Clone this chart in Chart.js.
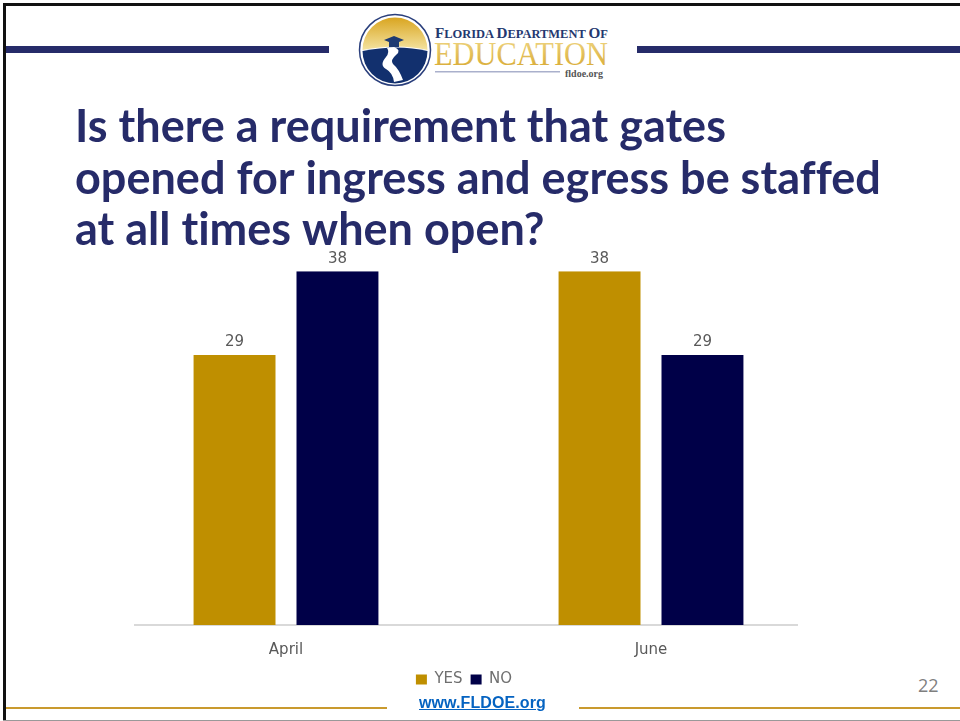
<!DOCTYPE html>
<html><head><meta charset="utf-8">
<style>
html,body{margin:0;padding:0;background:#fff;width:960px;height:721px;overflow:hidden}
.abs{position:absolute}
#wrap{position:absolute;left:75px;top:101px;width:810px;height:596px}
#axisline{position:absolute;left:134px;top:624px;width:664px;height:2px;background:#d9d9d9}
a{position:absolute;left:419px;top:694px;font:bold 16px "Liberation Sans",Arial,sans-serif;letter-spacing:.1px;color:#0563c1;text-decoration:underline}
#pg{position:absolute;left:918px;top:673px;font:18px "Open Sans",sans-serif;color:#7f7f7f}
</style></head><body>
<div class="abs" style="left:3px;top:3px;width:957px;height:3px;background:#111"></div>
<div class="abs" style="left:3px;top:3px;width:3px;height:718px;background:#111"></div>
<div class="abs" style="left:6px;top:46px;width:323px;height:7px;background:#262b69"></div>
<div class="abs" style="left:637px;top:46px;width:323px;height:7px;background:#262b69"></div>
<div class="abs" style="left:6px;top:707px;width:381px;height:2px;background:#c99a2e"></div>
<div class="abs" style="left:579px;top:707px;width:381px;height:2px;background:#c99a2e"></div>
<div class="abs" style="left:3px;top:720px;width:957px;height:1px;background:#999"></div>
<svg class="abs" style="left:355px;top:10px" width="260" height="80" viewBox="0 0 260 80">
<defs><linearGradient id="g" x1="0" y1="0" x2="0" y2="1"><stop offset="0" stop-color="#d9a520"/><stop offset="1" stop-color="#f4e3a0"/></linearGradient>
<linearGradient id="t" x1="0" y1="0" x2="0" y2="1"><stop offset="0" stop-color="#f0d888"/><stop offset="1" stop-color="#d6a62c"/></linearGradient></defs>
<circle cx="40" cy="40" r="35.5" fill="#fff" stroke="#2a3f7c" stroke-width="1.5"/>
<path d="M7.5 40a32.5 32.5 0 0 1 65 0q-30-7-65 0z" fill="url(#g)"/>
<path d="M7.5 41q35-7 65 0a32.5 32.5 0 0 1-65 0z" fill="#12306e"/>
<path d="M39 37q8 3 2 8t-3 9q6 5 10 16l-9 2q-1-9-8-13t0-12q4-5 1-9z" fill="#fff"/>
<path d="M29 30l10-4 10 4-10 4z" fill="#1d3a72"/><rect x="34" y="32" width="10" height="5" fill="#1d3a72"/>
<text x="80" y="28" font-family="Liberation Serif" font-weight="bold" fill="#24386f" textLength="173" lengthAdjust="spacingAndGlyphs" font-size="11.5"><tspan font-size="14">F</tspan>LORIDA <tspan font-size="14">D</tspan>EPARTMENT <tspan font-size="14">O</tspan>F</text>
<text x="79" y="55" font-family="Liberation Serif" font-size="33" fill="url(#t)" textLength="174" lengthAdjust="spacingAndGlyphs">EDUCATION</text>
<rect x="80" y="61" width="125" height="1.5" fill="#aab0cc"/>
<text x="210" y="67" font-family="Liberation Serif" font-size="10" font-weight="bold" fill="#555">fldoe.org</text>
</svg>
<div id="axisline"></div>
<div id="wrap"><canvas id="c" width="810" height="596"></canvas></div>
<a href="#">www.FLDOE.org</a>
<div id="pg">22</div>
<script src="https://cdn.jsdelivr.net/npm/chart.js@4"></script>
<script>
const categories = ["April", "June"];
const yesValues = [29, 38];
const noValues = [38, 29];
const titleLines = ["Is there a requirement that gates", "opened for ingress and egress be staffed", "at all times when open?"];

const valueLabels = {
  id: "valueLabels",
  afterDatasetsDraw(chart) {
    const ctx = chart.ctx;
    ctx.save();
    ctx.font = '15px "DejaVu Sans", sans-serif';
    ctx.fillStyle = "#595959";
    ctx.textAlign = "center";
    ctx.textBaseline = "bottom";
    chart.data.datasets.forEach((ds, i) => {
      chart.getDatasetMeta(i).data.forEach((bar, j) => {
        ctx.fillText(ds.data[j], bar.x, bar.y - 5);
      });
    });
    ctx.restore();
  }
};

const slideTweaks = {
  id: "slideTweaks",
  beforeDraw(chart) { chart.ctx.letterSpacing = "0.01px"; },
  afterLayout(chart) { chart.legend.right -= 32; }
};

Chart.defaults.font.family = '"DejaVu Sans", sans-serif';
new Chart(document.getElementById("c"), {
  type: "bar",
  data: {
    labels: categories,
    datasets: [
      { label: "YES", data: yesValues, backgroundColor: "#bf8f00", barPercentage: 0.796, categoryPercentage: 0.564 },
      { label: "NO", data: noValues, backgroundColor: "#000048", barPercentage: 0.796, categoryPercentage: 0.564 }
    ]
  },
  options: {
    responsive: false,
    animation: false,
    layout: { padding: 0 },
    scales: {
      x: {
        grid: { display: false },
        border: { display: false },
        afterFit(s) { s.height -= 3; },
        ticks: { color: "#595959", font: { size: 15 }, padding: 8, maxRotation: 0 }
      },
      y: {
        min: 0, max: 38,
        afterFit(s) { s.width = 28.5; },
        grid: { display: false },
        border: { display: false },
        ticks: { display: false }
      },
      rightSpace: {
        position: "right",
        afterFit(s) { s.width = 51.5; },
        grid: { display: false },
        border: { display: false },
        ticks: { display: false }
      }
    },
    plugins: {
      title: {
        display: true,
        text: titleLines,
        align: "start",
        color: "#262b69",
        font: { size: 45, weight: "bold", family: '"Lato", sans-serif', lineHeight: 1.143 },
        padding: { top: 1, bottom: 15 }
      },
      legend: {
        position: "bottom",
        labels: { boxWidth: 11, boxHeight: 10, color: "#6f6f6f", font: { size: 15 }, padding: 8 }
      },
      tooltip: { enabled: false }
    }
  },
  plugins: [valueLabels, slideTweaks]
});
</script>
</body></html>
